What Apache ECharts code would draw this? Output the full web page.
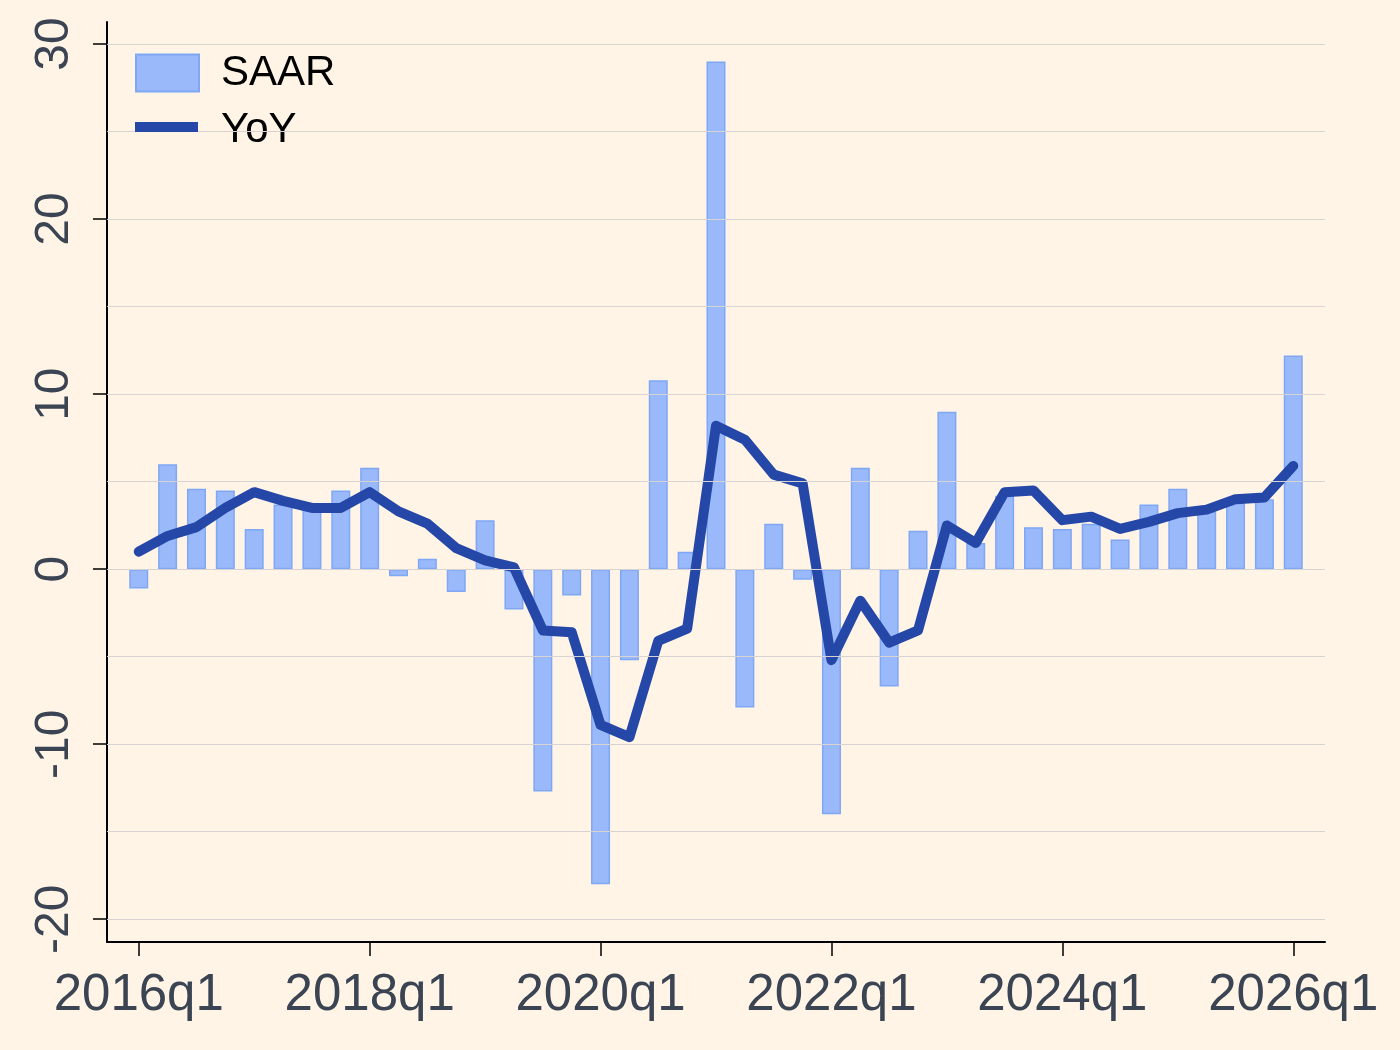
<!DOCTYPE html>
<html>
<head>
<meta charset="utf-8">
<script src="https://cdn.jsdelivr.net/npm/echarts@6/dist/echarts.min.js"></script>
<style>
  html, body { margin: 0; padding: 0; background: #fff4e6; }
  #chart { width: 1400px; height: 1050px; }
</style>
</head>
<body>
<div id="chart"></div>
<script>
// quarterly series, 2016q1 .. 2026q1 (index 0..40)
var saar = [-1.1, 6.0, 4.6, 4.5, 2.3, 3.7, 3.4, 4.5, 5.8, -0.4, 0.6, -1.3, 2.8, -2.3, -12.7, -1.5,
  -18.0, -5.2, 10.8, 1.0, 29.0, -7.9, 2.6, -0.6, -14.0, 5.8, -6.7, 2.2, 9.0, 1.5, 4.2, 2.4,
  2.3, 2.6, 1.7, 3.7, 4.6, 3.3, 3.8, 4.0, 12.2];
var yoy = [1.0, 1.9, 2.4, 3.5, 4.4, 3.9, 3.5, 3.5, 4.4, 3.3, 2.6, 1.2, 0.5, 0.1, -3.5, -3.6,
  -8.9, -9.6, -4.1, -3.4, 8.2, 7.4, 5.4, 4.9, -5.2, -1.8, -4.2, -3.5, 2.5, 1.5, 4.4, 4.5,
  2.8, 3.0, 2.3, 2.7, 3.2, 3.4, 4.0, 4.1, 5.9];

var xTickPos = [0, 8, 16, 24, 32, 40];
var xTickLabels = ['2016q1', '2018q1', '2020q1', '2022q1', '2024q1', '2026q1'];
var yTicks = [-20, -10, 0, 10, 20, 30];
var gridValues = [-20, -15, -10, -5, 0, 5, 10, 15, 20, 25, 30];

var font = 'Liberation Sans, Arial, sans-serif';
var lineColor = '#2447a8';

var saarData = saar.map(function(v, i) { return [i, v]; });
var yoyData = yoy.map(function(v, i) { return [i, v]; });

var chart = echarts.init(document.getElementById('chart'));
chart.setOption({
  backgroundColor: '#fff4e6',
  animation: false,
  grid: { left: 107, right: 75, top: 22, bottom: 108 },
  legend: {
    orient: 'vertical',
    left: 130,
    top: 47,
    itemWidth: 63,
    itemHeight: 37,
    itemGap: 15,
    textStyle: { fontSize: 42, color: '#000', fontFamily: font, padding: [0, 0, 0, 17] },
    data: [
      { name: 'SAAR', icon: 'rect' },
      { name: 'YoY', icon: 'none' }
    ]
  },
  // swatch for the YoY legend entry (thick line key)
  graphic: [{
    type: 'rect',
    left: 135,
    top: 122,
    shape: { width: 63, height: 10 },
    style: { fill: lineColor },
    z: 100
  }],
  xAxis: {
    type: 'value',
    min: -1.1,
    max: 41.1,
    splitLine: { show: false },
    axisLine: { show: true, onZero: false, lineStyle: { color: '#000', width: 2 } },
    axisTick: { show: true, length: 14, customValues: xTickPos, lineStyle: { color: '#000', width: 1.5 } },
    axisLabel: {
      customValues: xTickPos,
      margin: 28,
      fontSize: 51,
      color: '#3b4453',
      fontFamily: font,
      formatter: function(v) { return xTickLabels[xTickPos.indexOf(v)]; }
    }
  },
  yAxis: {
    type: 'value',
    min: -21.3,
    max: 31.26,
    splitLine: { show: false },
    axisLine: { show: true, onZero: false, lineStyle: { color: '#000', width: 2 } },
    axisTick: { show: true, length: 14, customValues: yTicks, lineStyle: { color: '#000', width: 1.5 } },
    axisLabel: {
      customValues: yTicks,
      rotate: 90,
      margin: 28,
      fontSize: 48,
      color: '#3b4453',
      fontFamily: font
    }
  },
  series: [
    {
      name: 'grid',
      type: 'line',
      data: [],
      z: 0,
      silent: true,
      markLine: {
        silent: true,
        symbol: 'none',
        label: { show: false },
        lineStyle: { color: '#d8d3d3', width: 1.2, type: 'solid' },
        data: gridValues.map(function(v) { return { yAxis: v }; })
      }
    },
    {
      name: 'SAAR',
      type: 'bar',
      data: saarData,
      barWidth: 19,
      z: 2,
      itemStyle: { color: '#99b9fa', borderColor: '#7fa7f5', borderWidth: 1.5 }
    },
    {
      name: 'YoY',
      type: 'line',
      data: yoyData,
      z: 3,
      symbol: 'none',
      itemStyle: { color: lineColor },
      lineStyle: { color: lineColor, width: 10, cap: 'round', join: 'round' }
    }
  ]
});
</script>
</body>
</html>
